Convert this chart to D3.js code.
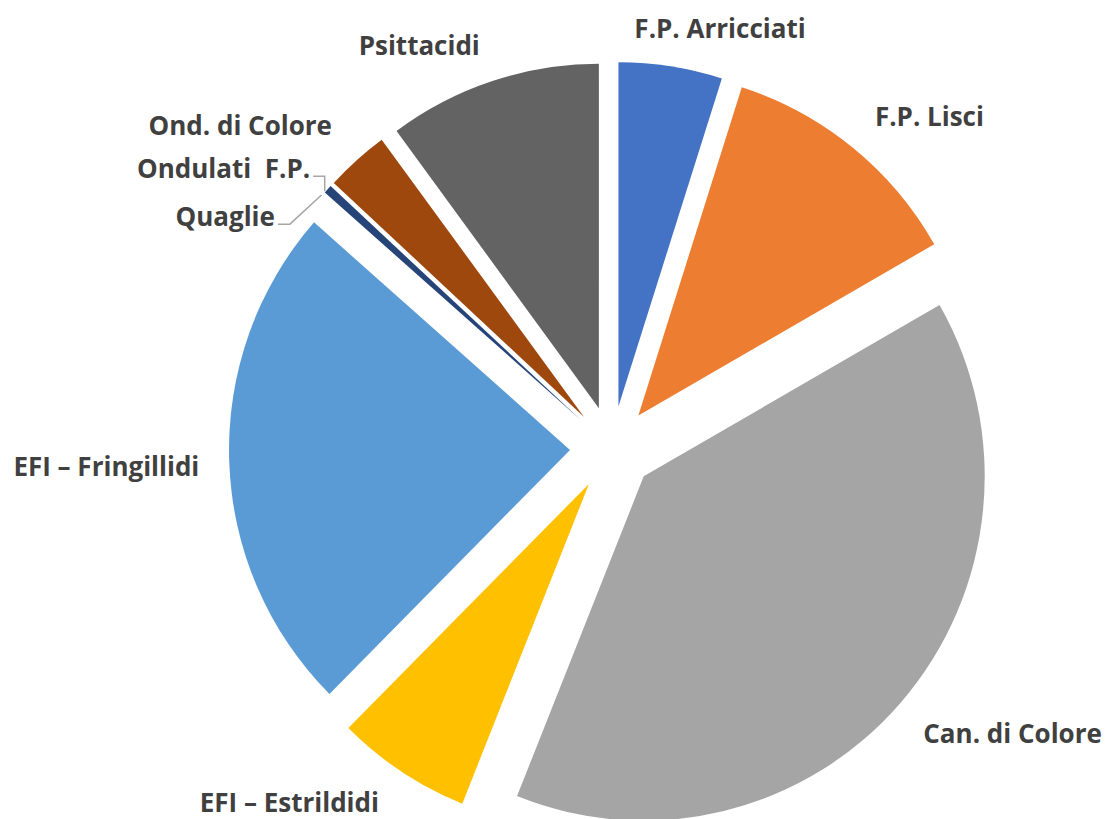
<!DOCTYPE html>
<html>
<head>
<meta charset="utf-8">
<script src="https://cdn.jsdelivr.net/npm/d3@7"></script>
<style>
  body { margin: 0; background: #fff; }
  text { font-family: "Open Sans", Lato, sans-serif; font-weight: bold; fill: #404040; }
</style>
</head>
<body>
<svg id="chart" width="1106" height="819"></svg>
<script>
// data (approx. per mille)
var categories = ["F.P. Arricciati", "F.P. Lisci", "Can. di Colore", "EFI \u2013 Estrildidi",
                  "EFI \u2013 Fringillidi", "Quaglie", "Ondulati\u00a0 F.P.", "Ond. di Colore", "Psittacidi"];
var values = [49, 118, 393, 64, 240, 0, 4, 30, 101];
var colors = ["#4472C4", "#ED7D31", "#A5A5A5", "#FFC000", "#5B9BD5",
              "#70AD47", "#264478", "#9E480E", "#636363"];
// small hand nudges for label placement (Excel best fit)
var labelNudge = [[33, -4], [30, -5], [29, 8], [-52, 1], [-10, 4], [-47, 46], [-25, 2], [-42, -9], [-48, -3]];
var hasLeader = [false, false, false, false, false, true, true, false, false];

var svg = d3.select("#chart");
var cx = 612, cy = 448.5, R = 341, explode = 42, gap = 20, fontSize = 26;
var sy = 1.01; // the original picture is stretched a touch vertically

var pie = d3.pie().sort(null).value(function(d){ return d; });
var arcs = pie(values);
var arc = d3.arc().innerRadius(0).outerRadius(R);

var g = svg.append("g").attr("transform", "translate(" + cx + "," + cy + ") scale(1," + sy + ")");
var gl = svg.append("g").attr("transform", "translate(" + cx + "," + cy + ")");

function dir(a) { return [Math.sin(a), -Math.cos(a)]; }

g.selectAll("path.slice")
  .data(arcs)
  .enter().append("path")
  .attr("class", "slice")
  .attr("d", arc)
  .attr("fill", function(d, i){ return colors[i]; })
  .attr("transform", function(d){
    var v = dir((d.startAngle + d.endAngle) / 2);
    return "translate(" + v[0] * explode + "," + v[1] * explode + ")";
  });

// labels
arcs.forEach(function(d, i) {
  var mid = (d.startAngle + d.endAngle) / 2;
  var v = dir(mid);
  var t = gl.append("text")
    .attr("font-size", fontSize)
    .attr("text-anchor", "middle")
    .attr("dominant-baseline", "central")
    .text(categories[i]);
  var w = t.node().getComputedTextLength();
  var h = fontSize * 1.1;
  var ax = v[0] * (R + explode + gap), ay = v[1] * (R + explode + gap) * sy;
  var lx = ax + v[0] * w / 2 + labelNudge[i][0];
  var ly = ay + v[1] * h / 2 + labelNudge[i][1];
  t.attr("x", lx).attr("y", ly);

  if (hasLeader[i]) {
    var px = v[0] * (R + explode), py = v[1] * (R + explode) * sy;
    var sx = lx + w / 2 + 3, syy = ly + 8;
    var ex = Math.min(px - 3, sx + 12);
    gl.append("path")
      .attr("d", d3.line()([[sx, syy], [ex, syy], [px - 3, py + 2]]))
      .attr("fill", "none")
      .attr("stroke", "#A6A6A6")
      .attr("stroke-width", 1.5);
  }
});
</script>
</body>
</html>
